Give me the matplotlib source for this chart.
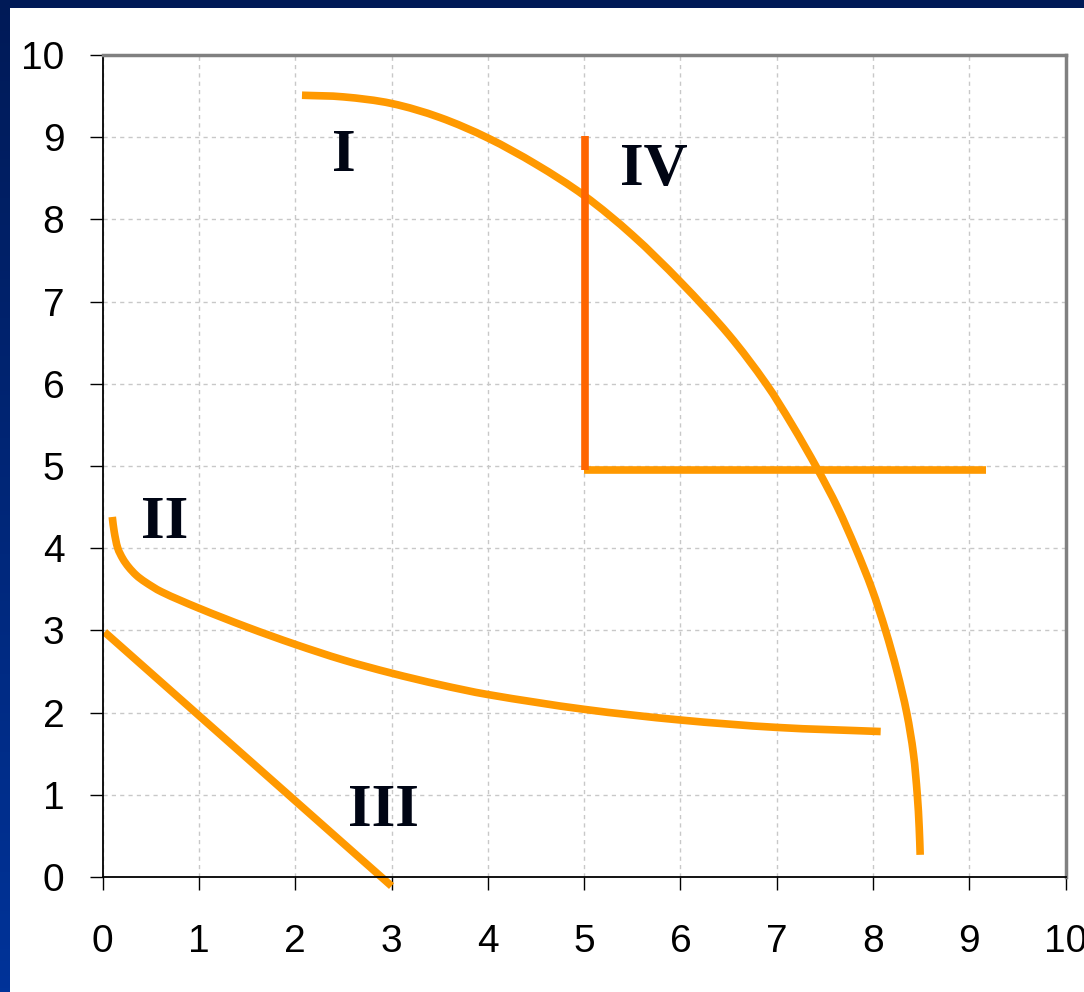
import numpy as np
import matplotlib
matplotlib.use("Agg")
import matplotlib.pyplot as plt
from matplotlib.path import Path
from matplotlib.patches import PathPatch
from matplotlib.colors import LinearSegmentedColormap

# curve I (bowed-out frontier)
curve1_x = [2.07, 2.5, 3.0, 3.5, 4.0, 4.5, 5.0, 5.5, 6.0, 6.5, 6.89, 7.16, 7.42, 7.63, 7.82, 7.99, 8.13, 8.25, 8.35, 8.42, 8.46, 8.48, 8.49]
curve1_y = [9.51, 9.49, 9.41, 9.24, 8.99, 8.67, 8.29, 7.81, 7.24, 6.60, 6.0, 5.5, 4.97, 4.5, 4.0, 3.5, 3.0, 2.5, 2.0, 1.5, 1.0, 0.6, 0.27]

# curve II (bowed-in)
curve2_x = [0.10, 0.12, 0.157, 0.21, 0.27, 0.35, 0.44, 0.61, 1.0, 1.5, 2.0, 2.5, 3.0, 3.5, 4.0, 5.0, 6.0, 7.0, 8.08]
curve2_y = [4.38, 4.2, 4.0, 3.87, 3.77, 3.67, 3.59, 3.47, 3.27, 3.04, 2.83, 2.64, 2.48, 2.34, 2.22, 2.04, 1.91, 1.82, 1.77]

# curve III (straight line)
curve3_x = [0.02, 3.0]
curve3_y = [2.98, -0.11]

# curve IV (right angle)
curve4_vx = [5.01, 5.01]
curve4_vy = [9.02, 4.95]
curve4_hx = [5.0, 9.17]
curve4_hy = [4.95, 4.95]

labels = ["I", "II", "III", "IV"]
label_x = [2.5, 0.64, 2.92, 5.72]
label_y = [8.77, 4.31, 0.80, 8.60]

orange = "#FF9900"
red_orange = "#FF6600"


def smooth_path(xs, ys):
    # cubic pieces through the read points (Catmull-Rom like tangents)
    p = np.column_stack([xs, ys]).astype(float)
    t = np.zeros_like(p)
    t[0] = p[1] - p[0]
    t[-1] = p[-1] - p[-2]
    t[1:-1] = p[2:] - p[:-2]
    t = t / np.linalg.norm(t, axis=1)[:, None]
    verts = [p[0]]
    codes = [Path.MOVETO]
    for i in range(len(p) - 1):
        d = np.linalg.norm(p[i + 1] - p[i])
        verts += [p[i] + t[i] * d / 3, p[i + 1] - t[i + 1] * d / 3, p[i + 1]]
        codes += [Path.CURVE4] * 3
    return Path(verts, codes)


fig = plt.figure(figsize=(10.84, 9.92), dpi=100)
fig.patch.set_facecolor("white")

# navy frame on the left and top
left_strip = fig.add_axes([0, 0, 10 / 1084, 1])
grad = np.linspace(0, 1, 256).reshape(-1, 1)
cmap = LinearSegmentedColormap.from_list("navy", ["#001A57", "#003399"])
left_strip.imshow(grad, aspect="auto", cmap=cmap, extent=[0, 1, 0, 1])
left_strip.axis("off")
top_strip = fig.add_axes([0, 1 - 8 / 992, 1, 8 / 992])
top_strip.set_facecolor("#001A57")
top_strip.set_xticks([])
top_strip.set_yticks([])
for s in top_strip.spines.values():
    s.set_visible(False)

ax = fig.add_axes([0.0947, 0.1159, 0.983 - 0.0947, 0.9446 - 0.1159])
ax.set_xlim(0, 10)
ax.set_ylim(0, 10)
ax.set_xticks(range(11))
ax.set_yticks(range(11))
ax.grid(True, color="#C8C8C8", linestyle=(0, (3, 3)), linewidth=1)
ax.set_axisbelow(True)

lw = 5.5
for xs, ys in [(curve1_x, curve1_y), (curve2_x, curve2_y)]:
    ax.add_patch(PathPatch(smooth_path(xs, ys), facecolor="none", edgecolor=orange,
                           lw=lw, capstyle="butt", joinstyle="round", clip_on=False))
ax.plot(curve3_x, curve3_y, color=orange, lw=lw, solid_capstyle="butt", clip_on=False)
ax.plot(curve4_hx, curve4_hy, color=orange, lw=lw, solid_capstyle="butt")
ax.plot(curve4_vx, curve4_vy, color=red_orange, lw=lw, solid_capstyle="butt")

for t, x, y in zip(labels, label_x, label_y):
    ax.text(x, y, t, fontsize=44, fontweight="bold", family="Liberation Serif",
            color="#000514", ha="center", va="center")

for side in ["top", "right"]:
    ax.spines[side].set_color("#808080")
    ax.spines[side].set_linewidth(2.5)
for side in ["left", "bottom"]:
    ax.spines[side].set_color("black")
    ax.spines[side].set_linewidth(1.3)

ax.tick_params(axis="both", direction="out", length=9.5, width=1, color="black",
               labelsize=28)
ax.tick_params(axis="x", pad=24)
ax.tick_params(axis="y", pad=18)
for lab in ax.get_xticklabels() + ax.get_yticklabels():
    lab.set_family("Liberation Sans")

fig.savefig("out.png", dpi=100)
